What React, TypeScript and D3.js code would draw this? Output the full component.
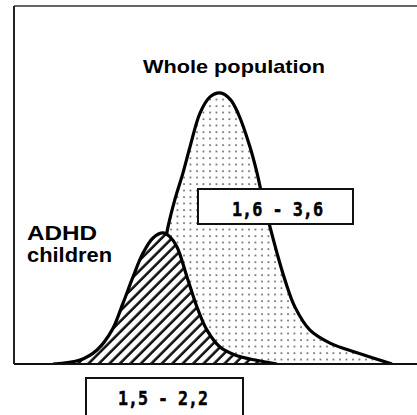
import * as d3 from 'd3'

// whole population distribution (x in score units, y as relative frequency)
const wholeX = [14, 21.5, 27.75, 32.75, 36, 38.5, 40.25, 42.25, 44, 46.5, 49, 51.5, 54, 56, 59, 60.75, 62.25, 64, 65.75, 67.75, 70.25, 74, 79, 85.75, 94.5]
const wholeY = [0, 0.8, 3.9, 12.2, 23.3, 38.1, 45.8, 53.1, 60.3, 69.7, 74.2, 75.3, 73.6, 69.7, 60.3, 53.1, 45.6, 38.1, 30.8, 23.3, 15.8, 9.4, 5.8, 3.1, 0]

// ADHD children distribution
const adhdX = [9.75, 16.5, 20.75, 24.5, 27.25, 29.75, 32.25, 34.75, 37.25, 39, 40.75, 43.25, 45.75, 48.25, 51.5, 55.25, 60.25, 65.75]
const adhdY = [0, 1.1, 3.9, 9.4, 16.9, 24.2, 30.8, 35, 36.4, 35.3, 32.5, 24.2, 15.8, 9.4, 4.7, 2.5, 1.1, 0]

const labels = ['Whole population', 'ADHD', 'children']
const ranges = ['1,6 - 3,6', '1,5 - 2,2']

const W = 417
const H = 415

const App = () => {
  const x = d3.scaleLinear().domain([0, 100]).range([14, 414])
  const y = d3.scaleLinear().domain([0, 100]).range([364, 4])

  const curve = d3.curveCatmullRom.alpha(0.5)
  const distArea = d3.area<[number, number]>()
    .x(d => x(d[0])).y0(y(0)).y1(d => Math.min(y(0), y(d[1])))
    .curve(curve)
  const distLine = d3.line<[number, number]>()
    .x(d => x(d[0])).y(d => y(d[1]))
    .curve(curve)

  const whole = wholeX.map((v, i) => [v, wholeY[i]] as [number, number])
  const adhd = adhdX.map((v, i) => [v, adhdY[i]] as [number, number])

  return (
    <svg width={W} height={H} style={{ position: 'absolute', left: 0, top: 0, background: '#fff' }}>
      <defs>
        <pattern id="dots" patternUnits="userSpaceOnUse" width={6.5} height={6.5}>
          <circle cx={2} cy={2} r={0.95} fill="#555" />
        </pattern>
        <pattern id="hatch" patternUnits="userSpaceOnUse" width={7.4} height={7.4} patternTransform="rotate(45)">
          <rect width={7.4} height={7.4} fill="#fff" />
          <line x1={1.5} y1={0} x2={1.5} y2={7.4} stroke="#111" strokeWidth={2.6} />
        </pattern>
        <clipPath id="plot">
          <rect x={0} y={0} width={W} height={y(0)} />
        </clipPath>
      </defs>

      {/* frame */}
      <line x1={x(0)} y1={6} x2={W} y2={6} stroke="#333" strokeWidth={1.5} />
      <line x1={x(0)} y1={6} x2={x(0)} y2={y(0)} stroke="#222" strokeWidth={2} />

      <g clipPath="url(#plot)">
        {/* whole population */}
        <path d={distArea(whole) ?? ''} fill="url(#dots)" />
        <path d={distLine(whole) ?? ''} fill="none" stroke="#000" strokeWidth={3.2} strokeLinejoin="round" />

        {/* ADHD children */}
        <path d={distArea(adhd) ?? ''} fill="url(#hatch)" />
        <path d={distLine(adhd) ?? ''} fill="none" stroke="#000" strokeWidth={3.2} strokeLinejoin="round" />
      </g>

      {/* baseline */}
      <line x1={x(0)} y1={y(0)} x2={W} y2={y(0)} stroke="#111" strokeWidth={2} />

      <g fontFamily="'Liberation Sans', Arial, sans-serif" fontWeight="bold" fill="#000">
        <text x={143} y={73} fontSize={19} textLength={182} lengthAdjust="spacingAndGlyphs">{labels[0]}</text>
        <text x={27} y={240} fontSize={20} textLength={70} lengthAdjust="spacingAndGlyphs">{labels[1]}</text>
        <text x={27} y={262} fontSize={20} textLength={85} lengthAdjust="spacingAndGlyphs">{labels[2]}</text>
      </g>

      <g fontFamily="'DejaVu Sans Mono', monospace" fontWeight="bold" fill="#000" stroke="#000" strokeWidth={0.5}>
        <rect x={198} y={189} width={155} height={35} fill="#fff" stroke="#111" strokeWidth={2} />
        <text x={232} y={216} fontSize={20} textLength={91} lengthAdjust="spacingAndGlyphs">{ranges[0]}</text>
        <rect x={86} y={378} width={157} height={50} fill="#fff" stroke="#111" strokeWidth={2} />
        <text x={118} y={405} fontSize={20} textLength={90} lengthAdjust="spacingAndGlyphs">{ranges[1]}</text>
      </g>
    </svg>
  )
}

export default App
